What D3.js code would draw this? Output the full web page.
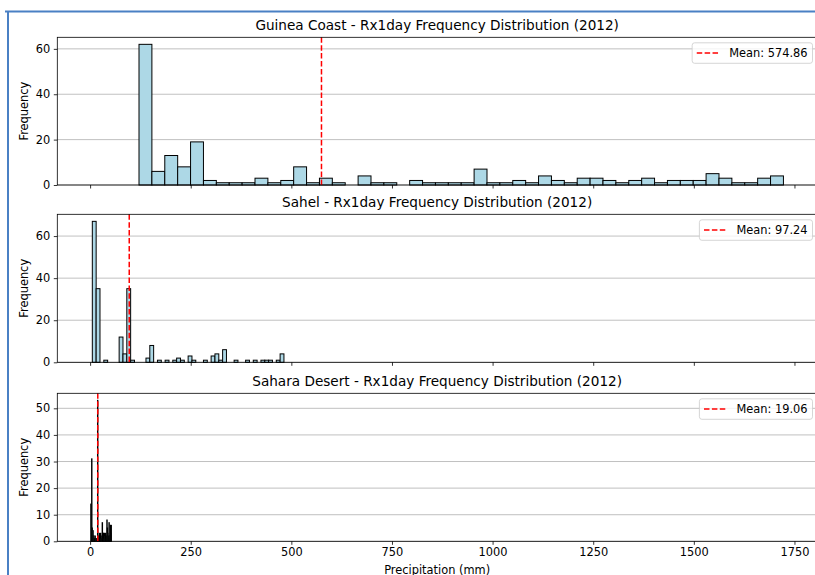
<!DOCTYPE html>
<html>
<head>
<meta charset="utf-8">
<script src="https://cdn.jsdelivr.net/npm/d3@7"></script>
<style>
  html, body { margin: 0; padding: 0; background: #fff; }
  svg { display: block; font-family: "DejaVu Sans", sans-serif; }
</style>
</head>
<body>
<svg id="chart" width="815" height="575"></svg>
<script>
// ---- Data ----
const regions = ["Guinea Coast", "Sahel", "Sahara Desert"];
const year = 2012;
const means = [574.86, 97.24, 19.06];

// histogram bin ranges (mm) — 50 equal bins each
const guineaRange = [121.5, 1722.6];
const sahelRange = [5.5, 481.6];
const saharaRange = [0.5, 53.0];

// bin counts
const guineaCounts = [62, 6, 13, 8, 19, 2, 1, 1, 1, 3, 1, 2, 8, 1, 3, 1, 0, 4, 1, 1,
                      0, 2, 1, 1, 1, 1, 7, 1, 1, 2, 1, 4, 2, 1, 3, 3, 2, 1, 2, 3,
                      1, 2, 2, 2, 5, 3, 1, 1, 3, 4];
const sahelCounts = [67, 35, 0, 1, 0, 0, 0, 12, 4, 35, 1, 0, 0, 0, 2, 8, 0, 1, 0, 1,
                     0, 1, 2, 1, 0, 3, 1, 0, 0, 1, 0, 3, 4, 1, 6, 0, 0, 1, 0, 0,
                     1, 0, 1, 0, 1, 1, 1, 0, 1, 4];
const saharaCounts = [0, 14, 0, 31, 5, 2, 4, 1, 2, 0, 1, 2, 0, 1, 0, 1, 0, 53, 2, 0,
                      1, 3, 1, 2, 3, 1, 0, 2, 7, 1, 3, 3, 1, 3, 2, 0, 3, 1, 2, 8,
                      5, 3, 0, 2, 7, 1, 2, 6, 3, 6];

const xTicks = [0, 250, 500, 750, 1000, 1250, 1500, 1750];
const yTicksList = [[0, 20, 40, 60], [0, 20, 40, 60], [0, 10, 20, 30, 40, 50]];

// ---- Layout ----
const svg = d3.select("#chart");
const W = 815, H = 575;
const left = 57.3, right = 817;
const panels = [
  { top: 37.3, bottom: 185.0 },
  { top: 214.3, bottom: 362.3 },
  { top: 393.3, bottom: 541.3 }
];
const FS = 11.4;

// notebook frame
svg.append("path")
  .attr("d", `M5,11.5 H${W + 5} M8,11.5 V${H + 5}`)
  .attr("fill", "none").attr("stroke", "#4a80c4").attr("stroke-width", 2);

const x = d3.scaleLinear().domain([-81.5, 1806]).range([left, right]);

const allCounts = [guineaCounts, sahelCounts, saharaCounts];
const allRanges = [guineaRange, sahelRange, saharaRange];

panels.forEach((p, i) => {
  const counts = allCounts[i];
  const [lo, hi] = allRanges[i];
  const n = counts.length;
  const bw = (hi - lo) / n;
  const bins = counts.map((c, k) => ({ x0: lo + k * bw, x1: lo + (k + 1) * bw, c }));
  const ymax = d3.max(counts) * 1.05;
  const y = d3.scaleLinear().domain([0, ymax]).range([p.bottom, p.top]);

  const g = svg.append("g");

  // horizontal grid
  g.selectAll("line.grid").data(yTicksList[i]).join("line")
    .attr("x1", left).attr("x2", right)
    .attr("y1", d => y(d)).attr("y2", d => y(d))
    .attr("stroke", "#b0b0b0").attr("stroke-width", 0.8);

  // bars
  g.selectAll("rect.bar").data(bins.filter(b => b.c > 0)).join("rect")
    .attr("x", d => x(d.x0)).attr("width", d => x(d.x1) - x(d.x0))
    .attr("y", d => y(d.c)).attr("height", d => y(0) - y(d.c))
    .attr("fill", "#add8e6").attr("stroke", "#000").attr("stroke-width", 1);

  // mean line
  g.append("line")
    .attr("x1", x(means[i])).attr("x2", x(means[i]))
    .attr("y1", p.top).attr("y2", p.bottom)
    .attr("stroke", "#ff0000").attr("stroke-width", 1.5)
    .attr("stroke-dasharray", "5.5,2.4");

  // spines
  g.append("rect")
    .attr("x", left).attr("y", p.top)
    .attr("width", right - left).attr("height", p.bottom - p.top)
    .attr("fill", "none").attr("stroke", "#000").attr("stroke-width", 0.8);

  // y axis
  const ya = d3.axisLeft(y).tickValues(yTicksList[i]).tickSize(3.5).tickPadding(3.5);
  const yg = svg.append("g").attr("transform", `translate(${left},0)`).call(ya);
  yg.select(".domain").remove();
  yg.selectAll("text").attr("font-size", FS).attr("font-family", "DejaVu Sans").attr("fill", "#000");
  yg.selectAll("line").attr("stroke", "#000").attr("stroke-width", 0.8);

  // x axis
  const xa = d3.axisBottom(x).tickValues(xTicks).tickSize(3.5).tickPadding(3.5)
    .tickFormat(i < 2 ? "" : d3.format("d"));
  const xg = svg.append("g").attr("transform", `translate(0,${p.bottom})`).call(xa);
  xg.select(".domain").remove();
  xg.selectAll("text").attr("font-size", FS).attr("font-family", "DejaVu Sans").attr("fill", "#000");
  xg.selectAll("line").attr("stroke", "#000").attr("stroke-width", 0.8);

  // title
  svg.append("text")
    .attr("x", (left + right) / 2).attr("y", p.top - 7.5)
    .attr("text-anchor", "middle").attr("font-size", 13.6).attr("fill", "#000")
    .text(`${regions[i]} - Rx1day Frequency Distribution (${year})`);

  // y label
  svg.append("text")
    .attr("transform", `translate(27.8,${(p.top + p.bottom) / 2}) rotate(-90)`)
    .attr("text-anchor", "middle").attr("font-size", FS).attr("fill", "#000")
    .text("Frequency");

  // legend
  const lg = svg.append("g");
  const boxRight = 812.5, boxTop = p.top + 5.5, boxH = 20.5;
  const txt = lg.append("text").attr("font-size", FS).attr("fill", "#000")
    .text(`Mean: ${means[i].toFixed(2)}`);
  const tw = txt.node().getComputedTextLength();
  const boxLeft = boxRight - tw - 42;
  lg.insert("rect", "text")
    .attr("x", boxLeft).attr("y", boxTop).attr("width", boxRight - boxLeft).attr("height", boxH)
    .attr("rx", 2.5).attr("fill", "#fff").attr("fill-opacity", 0.8)
    .attr("stroke", "#cccccc").attr("stroke-width", 0.8);
  lg.append("line")
    .attr("x1", boxLeft + 4.6).attr("x2", boxLeft + 28)
    .attr("y1", boxTop + boxH / 2).attr("y2", boxTop + boxH / 2)
    .attr("stroke", "#ff0000").attr("stroke-width", 1.5).attr("stroke-dasharray", "5.5,2.4");
  txt.attr("x", boxLeft + 37).attr("y", boxTop + boxH / 2 + 4);
});

// x label
svg.append("text")
  .attr("x", (left + right) / 2).attr("y", 573.5)
  .attr("text-anchor", "middle").attr("font-size", FS).attr("fill", "#000")
  .text("Precipitation (mm)");
</script>
</body>
</html>
